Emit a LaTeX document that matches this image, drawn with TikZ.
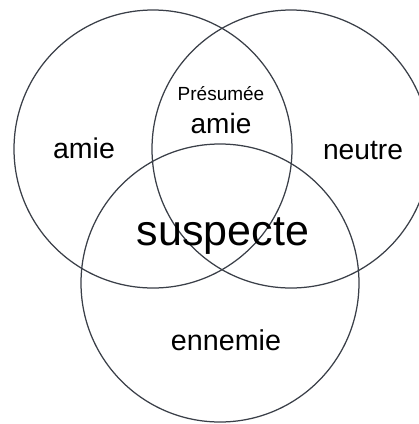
\documentclass[tikz,border=0pt]{standalone}
\usepackage{fontspec}
\setmainfont{Liberation Sans}
\begin{document}
\begin{tikzpicture}[x=1bp,y=-1bp,
  ring/.style={draw=ringcol,line width=1.25bp},
  lbl/.style={anchor=base,inner sep=0pt,text=black}]
\definecolor{ringcol}{HTML}{3A3F48}
\useasboundingbox (0,0) rectangle (419,424);
% the three sets
\coordinate (cA) at (153,149);
\coordinate (cN) at (291,149);
\coordinate (cE) at (220,283);
\draw[ring] (cA) circle[radius=139];
\draw[ring] (cN) circle[radius=139];
\draw[ring] (cE) circle[radius=139];
% region labels
\node[lbl,font=\fontsize{28.5bp}{30bp}\selectfont] (amie) at (84,158) {amie};
\node[lbl,font=\fontsize{28.2bp}{30bp}\selectfont] (neutre) at (363,159) {neutre};
\node[lbl,font=\fontsize{19bp}{21bp}\selectfont] (presumee) at (221,100) {Présumée};
\node[lbl,font=\fontsize{28bp}{30bp}\selectfont] (amie2) at (221,133) {amie};
\node[lbl,font=\fontsize{43bp}{45bp}\selectfont] (suspecte) at (223,245) {suspecte};
\node[lbl,font=\fontsize{28.7bp}{30bp}\selectfont] (ennemie) at (226,350) {ennemie};
\end{tikzpicture}
\end{document}
